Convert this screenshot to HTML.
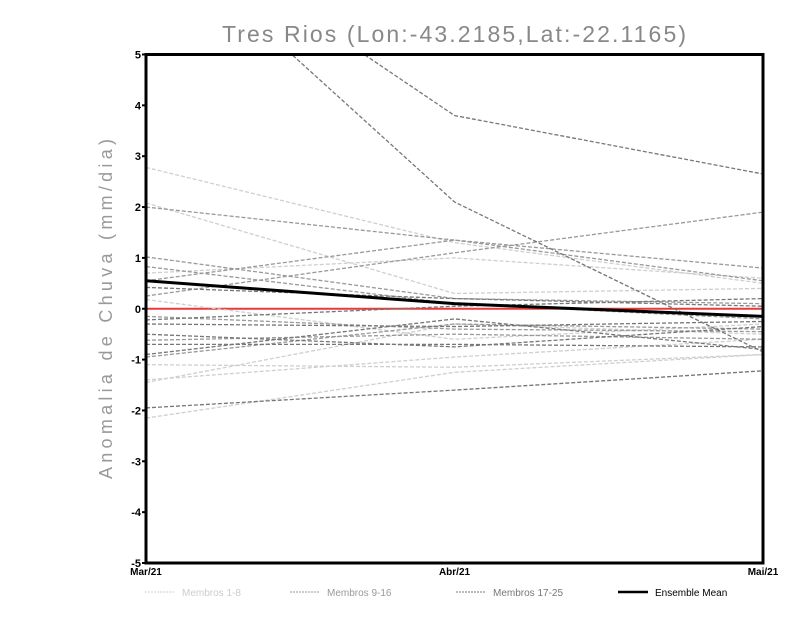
<!DOCTYPE html>
<html><head><meta charset="utf-8"><style>
body{margin:0;background:#fff;width:800px;height:618px;overflow:hidden;font-family:"Liberation Sans",sans-serif}
</style></head><body>
<svg width="800" height="618" xmlns="http://www.w3.org/2000/svg">
<defs><clipPath id="pc"><rect x="146" y="54.5" width="617" height="508.5"/></clipPath></defs>
<text x="222" y="42" textLength="464" lengthAdjust="spacing" font-size="23" fill="#888">Tres Rios (Lon:-43.2185,Lat:-22.1165)</text>
<text transform="translate(112,479) rotate(-90)" textLength="340" lengthAdjust="spacing" font-size="18" fill="#999">Anomalia de Chuva (mm/dia)</text>
<g id="plot" clip-path="url(#pc)"></g>
<g id="axes"></g>
<g id="legend" font-size="10"></g>
</svg>
<script>
const categories=["Mar/21","Abr/21","Mai/21"];
const yTicks=[5,4,3,2,1,0,-1,-2,-3,-4,-5];
const membersLight=[[2.78,1.3,0.5],[2.08,0.3,0.4],[0.18,-0.6,-0.3],[-1.1,-1.15,-0.9],[-1.4,-0.95,-0.6],[-2.15,-1.25,-0.9],[0.7,1.0,0.6],[-1.45,-0.3,-0.5]];
const membersMid=[[2.0,1.35,0.8],[1.02,0.2,0.1],[0.83,0.1,-0.2],[0.25,1.1,1.9],[-0.15,-0.4,-0.45],[-0.62,-0.5,-0.6],[-0.95,-0.3,-0.4],[0.55,1.35,0.55]];
const membersDark=[[7.6,2.1,-0.85],[7.9,3.8,2.65],[-1.95,-1.6,-1.22],[-0.22,0.05,0.2],[-0.5,-0.75,-0.35],[-0.7,-0.7,-0.75],[-0.9,-0.2,-0.8],[0.42,0.2,0.05],[-0.3,-0.35,-0.25]];
const ensembleMean=[0.55,0.1,-0.15];
const NS="http://www.w3.org/2000/svg";
const X0=146,X1=763,Y0=563,Y1=54.5;
const xs=i=>X0+(X1-X0)*i/(categories.length-1);
const ys=v=>Y0-(v+5)/10*(Y0-Y1);
function mk(t,p,a){const e=document.createElementNS(NS,t);for(const k in a)e.setAttribute(k,a[k]);p.appendChild(e);return e;}
const plot=document.getElementById('plot');
const zl=mk('line',plot,{x1:X0,x2:X1,y1:ys(0),y2:ys(0),stroke:'#e83a3a','stroke-width':2});


function drawSet(set,col,name){set.forEach((m,j)=>{const p=mk('polyline',plot,{points:m.map((v,i)=>xs(i)+','+ys(v)).join(' '),fill:'none',stroke:col,'stroke-width':1.3,'stroke-dasharray':'4,2'});

});}
drawSet(membersLight,'#cfcfcf','member-light');
drawSet(membersMid,'#999','member-mid');
drawSet(membersDark,'#777','member-dark');
const em=mk('polyline',plot,{points:ensembleMean.map((v,i)=>xs(i)+','+ys(v)).join(' '),fill:'none',stroke:'#000','stroke-width':3});


const ax=document.getElementById('axes');
const fr=mk('rect',ax,{x:X0,y:Y1,width:X1-X0,height:Y0-Y1,fill:'none',stroke:'#000','stroke-width':3});


yTicks.forEach(v=>{mk('line',ax,{x1:X0-4,x2:X0,y1:ys(v),y2:ys(v),stroke:'#000','stroke-width':2});
const t=mk('text',ax,{x:X0-5,y:ys(v)+4,'text-anchor':'end','font-size':11,'font-weight':'bold'});t.textContent=v;

});
categories.forEach((c,i)=>{const t=mk('text',ax,{x:xs(i),y:Y0+12,'text-anchor':'middle','font-size':10,'font-weight':'bold'});t.textContent=c;

});
const lg=document.getElementById('legend');
[["Membros 1-8","#cfcfcf",145,"#ccc",2,1],["Membros 9-16","#999",290,"#999",2,1],["Membros 17-25","#777",456,"#777",2,1],["Ensemble Mean","#000",618,"#000",0,2.5]].forEach(l=>{
const g=mk('g',lg,{});


mk('line',g,{x1:l[2],x2:l[2]+30,y1:592,y2:592,stroke:l[1],'stroke-width':l[5],'stroke-dasharray':l[4]?'2,1':'none'});
const t=mk('text',g,{x:l[2]+37,y:596,fill:l[0]=="Ensemble Mean"?'#000':l[3]});t.textContent=l[0];});
</script>
</body></html>
